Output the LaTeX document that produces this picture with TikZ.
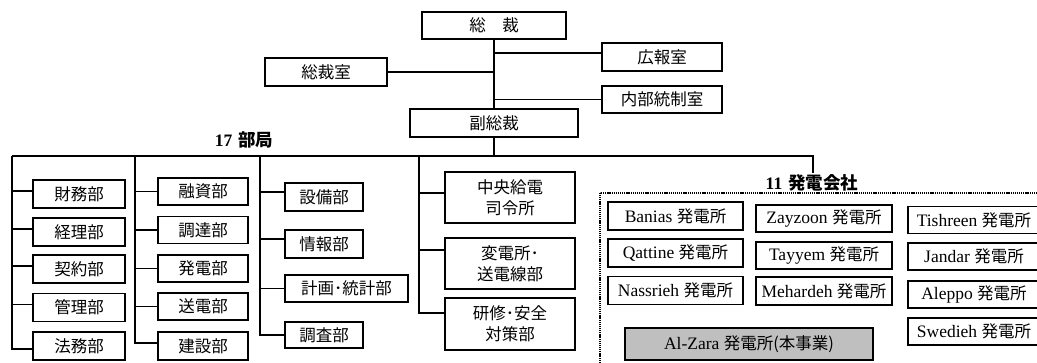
\documentclass[tikz,border=0pt]{standalone}
\usepackage{fontspec}
\setmainfont{Liberation Serif}
\newfontfamily\jp{Noto Sans CJK JP}
\newcommand{\jpf}{\jp\fontsize{16.5}{21}\selectfont}
\begin{document}
\begin{tikzpicture}[x=1pt,y=-1pt,
  box/.style={draw, line width=1.8pt, rectangle, inner sep=0pt, align=center,
    font=\jp\fontsize{16.5}{21}\selectfont},
  pbox/.style={draw, line width=1.8pt, rectangle, inner sep=0pt, align=center,
    font=\fontsize{17.5}{20}\selectfont},
  conn/.style={line width=1.5pt},
  lbl/.style={inner sep=1pt, font=\bfseries\fontsize{17.5}{20}\selectfont}]
\useasboundingbox (0,0) rectangle (1037,363);
\clip (0,0) rectangle (1037,363);

% top management
\node[box, minimum width=144, minimum height=27] (top) at (494,25.5) {総　裁};
\node[box, minimum width=120, minimum height=28] (koho) at (662,57) {広報室};
\node[box, minimum width=122, minimum height=28] (sss) at (326,72) {総裁室};
\node[box, minimum width=120, minimum height=27] (naibu) at (662,99.5) {内部統制室};
\node[box, minimum width=168, minimum height=28] (fuku) at (494,123) {副総裁};

\draw[conn] (top.south) -- (fuku.north);
\draw[conn] ([yshift=4pt]koho.west) -- ([yshift=4pt]koho.west -| top.south);
\draw[conn] (sss.east) -- (sss.east -| top.south);
\draw[conn] (naibu.west) -- (naibu.west -| top.south);

% labels
\node[lbl] (lab17) at (244,140) {17\hspace{6pt}{\jp\bfseries 部局}};
\node[lbl, anchor=north] (gen) at (812,173) {11\hspace{6pt}{\jp\bfseries 発電会社}};

% bus
\coordinate (c1) at (12,156);
\coordinate (c2) at (135,156);
\coordinate (c3) at (260,156);
\coordinate (c4) at (419,156);
\coordinate (busR) at (813,156);
\draw[conn] (fuku.south) -- (fuku.south |- c1);
\draw[conn] (c1) -- (busR) -- (busR |- gen.north);

% column 1
\node[box, minimum width=92, minimum height=28] (a1) at (79,194) {財務部};
\node[box, minimum width=92, minimum height=28] (a2) at (79,232) {経理部};
\node[box, minimum width=92, minimum height=28] (a3) at (79,269) {契約部};
\node[box, minimum width=92, minimum height=28] (a4) at (79,307.5) {管理部};
\node[box, minimum width=92, minimum height=28] (a5) at (79,346) {法務部};
\draw[conn] (c1) |- ([yshift=-3pt]a5.west);
\foreach \i in {1,...,4}{\draw[conn] (c1 |- a\i.west) ++(0,-3) -- ([yshift=3pt]a\i.west);}

% column 2
\node[box, minimum width=90, minimum height=27] (b1) at (203,191.5) {融資部};
\node[box, minimum width=90, minimum height=27] (b2) at (203,230) {調達部};
\node[box, minimum width=90, minimum height=27] (b3) at (203,268.5) {発電部};
\node[box, minimum width=90, minimum height=27] (b4) at (203,306.5) {送電部};
\node[box, minimum width=90, minimum height=28] (b5) at (203,346) {建設部};
\draw[conn] (c2) |- ([yshift=3pt]b5.west);
\foreach \i in {1,...,4}{\draw[conn] (c2 |- b\i.west) -- (b\i.west);}

% column 3
\node[box, minimum width=78, minimum height=28] (d1) at (324,197) {設備部};
\node[box, minimum width=78, minimum height=28] (d2) at (324,244) {情報部};
\node[box, minimum width=123, minimum height=27] (d3) at (346.5,288.5) {計画･統計部};
\node[box, minimum width=78, minimum height=26] (d4) at (324,335) {調査部};
\draw[conn] (c3) |- (d4.west);
\draw[conn] (c3 |- d1.west) ++(0,-5) -- ([yshift=5pt]d1.west);
\draw[conn] (c3 |- d2.west) ++(0,-5) -- ([yshift=5pt]d2.west);
\draw[conn] (c3 |- d3.west) -- (d3.west);

% column 4
\node[box, minimum width=130, minimum height=51] (e1) at (510,197.5) {中央給電\\司令所};
\node[box, minimum width=130, minimum height=51] (e2) at (510,263.5) {変電所･\\送電線部};
\node[box, minimum width=130, minimum height=52] (e3) at (510,324) {研修･安全\\対策部};
\draw[conn] (c4) |- ([yshift=11pt]e3.west);
\draw[conn] (c4 |- e1.west) ++(0,-4.5) -- ([yshift=4.5pt]e1.west);
\draw[conn] (c4 |- e2.west) ++(0,-13.5) -- ([yshift=13.5pt]e2.west);

% power companies group
\coordinate (gtl) at (600,193);
\coordinate (gbr) at (1045,375);
\draw[line width=1.6pt, dash pattern=on 1.1pt off 0.8pt] (gtl) rectangle (gbr);

\node[pbox, minimum width=135, minimum height=28] (p1) at (675.5,216) {Banias {\jpf 発電所}};
\node[pbox, minimum width=135, minimum height=28] (p2) at (675.5,253) {Qattine {\jpf 発電所}};
\node[pbox, minimum width=135, minimum height=28] (p3) at (675.5,290.5) {Nassrieh {\jpf 発電所}};
\node[pbox, minimum width=136, minimum height=27] (q1) at (824,218.5) {Zayzoon {\jpf 発電所}};
\node[pbox, minimum width=136, minimum height=27] (q2) at (824,255.5) {Tayyem {\jpf 発電所}};
\node[pbox, minimum width=136, minimum height=28] (q3) at (824,291) {Mehardeh {\jpf 発電所}};
\node[pbox, minimum width=132, minimum height=27] (r1) at (974,220) {Tishreen {\jpf 発電所}};
\node[pbox, minimum width=132, minimum height=27] (r2) at (974,256.5) {Jandar {\jpf 発電所}};
\node[pbox, minimum width=132, minimum height=27] (r3) at (974,294.5) {Aleppo {\jpf 発電所}};
\node[pbox, minimum width=132, minimum height=27] (r4) at (974,331.5) {Swedieh {\jpf 発電所}};
\node[pbox, fill=gray!50, minimum width=248, minimum height=32] (alz) at (749,344) {Al-Zara {\jpf 発電所(本事業)}};
\end{tikzpicture}
\end{document}
